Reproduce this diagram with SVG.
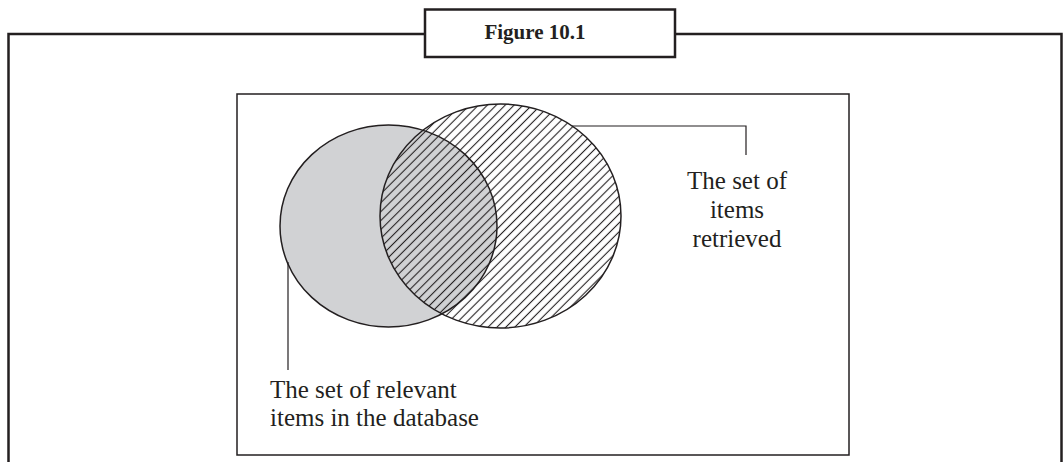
<svg xmlns="http://www.w3.org/2000/svg" width="1063" height="462" viewBox="0 0 1063 462">
<style>
.frame{fill:none;stroke:#231f20;stroke-width:2.5}
.box{fill:#fff;stroke:#231f20;stroke-width:1.5}
.outline{fill:none;stroke:#231f20;stroke-width:1.5}
.lead{fill:none;stroke:#231f20;stroke-width:1.2}
.lbl{font-family:"Liberation Serif","Times New Roman",serif;font-size:25px;fill:#231f20}
.title{font-family:"Liberation Serif","Times New Roman",serif;font-size:21px;font-weight:bold;fill:#231f20}
</style>
<defs>
<pattern id="hatch" patternUnits="userSpaceOnUse" width="6.3" height="6.3" patternTransform="rotate(-45)">
<line x1="0" y1="3.15" x2="6.3" y2="3.15" stroke="#231f20" stroke-width="1.1"/>
</pattern>
</defs>
<rect width="1063" height="462" fill="#fff"/>
<g id="outer-frame">
<path class="frame" d="M8.5 462 V34 H425 M675 34 H1061.5 V462"/>
</g>
<g id="title">
<rect x="425" y="9.5" width="250" height="47.5" fill="#fff" stroke="#231f20" stroke-width="2.5"/>
<text class="title" x="535" y="39" text-anchor="middle">Figure 10.1</text>
</g>
<g id="panel">
<rect class="box" x="237" y="94" width="612" height="361"/>
</g>
<g id="relevant-set">
<ellipse cx="388.5" cy="226" rx="108.5" ry="101" fill="#d1d2d4"/>
</g>
<g id="retrieved-set">
<ellipse cx="500.5" cy="216" rx="120.5" ry="112" fill="url(#hatch)"/>
<ellipse class="outline" cx="500.5" cy="216" rx="120.5" ry="112"/>
</g>
<g id="relevant-outline">
<ellipse class="outline" cx="388.5" cy="226" rx="108.5" ry="101"/>
</g>
<g id="connectors">
<path class="lead" d="M288 262 V370"/>
<path class="lead" d="M572 126 H746 V155"/>
</g>
<g id="label-retrieved">
<text class="lbl" x="737" y="189" text-anchor="middle">The set of</text>
<text class="lbl" x="737" y="218" text-anchor="middle">items</text>
<text class="lbl" x="737" y="247" text-anchor="middle">retrieved</text>
</g>
<g id="label-relevant">
<text class="lbl" x="270" y="398">The set of relevant</text>
<text class="lbl" x="270" y="426">items in the database</text>
</g>
</svg>
